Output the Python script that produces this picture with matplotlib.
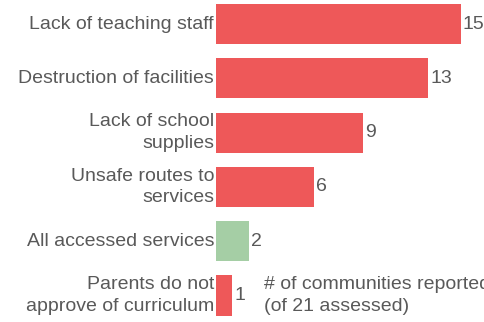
import matplotlib
matplotlib.use("Agg")
import matplotlib.pyplot as plt

categories = [
    "Lack of teaching staff",
    "Destruction of facilities",
    "Lack of school\nsupplies",
    "Unsafe routes to\nservices",
    "All accessed services",
    "Parents do not\napprove of curriculum",
]
values = [15, 13, 9, 6, 2, 1]
colors = ["#EE5859", "#EE5859", "#EE5859", "#EE5859", "#A5CEA5", "#EE5859"]
note = "# of communities reported\n(of 21 assessed)"

plt.rcParams["font.family"] = ["Liberation Sans", "DejaVu Sans"]
text_color = "#595959"
fs = 14

fig = plt.figure(figsize=(4.84, 3.22), dpi=100)
ax = fig.add_axes([216 / 484, 0, 1 - 216 / 484, 1])

pos = list(range(len(values)))
ax.barh(pos, values, height=0.74, color=colors)
ax.set_xlim(0, 16.41)
ax.set_ylim(5.488, -0.442)
ax.axis("off")

for p, v, c in zip(pos, values, categories):
    ax.text(v + 0.12, p, str(v), va="center", ha="left", fontsize=fs, color=text_color)
    ax.text(-0.12, p, c, va="center", ha="right", fontsize=fs, color=text_color,
            linespacing=1.35)

ax.text(2.93, 5.0, note, va="center", ha="left", fontsize=fs, color=text_color,
        linespacing=1.35, clip_on=False)

fig.savefig("out.png", dpi=100)
